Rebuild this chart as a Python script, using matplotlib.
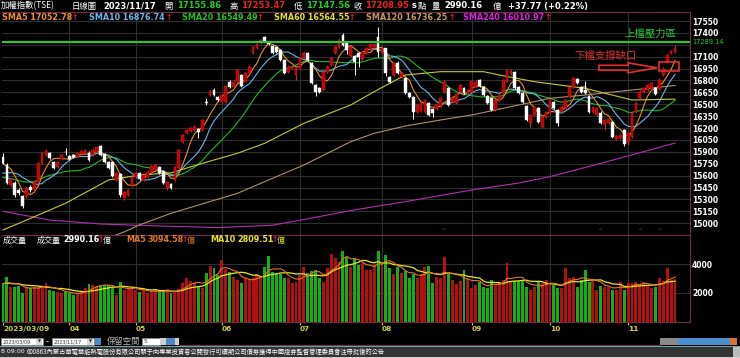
import numpy as np
import pandas as pd
import matplotlib
matplotlib.use('Agg')
import matplotlib.pyplot as plt
from matplotlib.patches import Rectangle, Polygon
from matplotlib.lines import Line2D

# ---------------- data ----------------
opens = [15841, 15736, 15484, 15513, 15421, 15337, 15337, 15463, 15421, 15526,
         15757, 15862, 15883, 15778, 15715, 15807, 15900, 15850, 15862, 15841,
         15870, 15883, 15891, 15862, 15896, 15975, 15870, 15778, 15778, 15547,
         15622, 15316, 15358, 15471, 15589, 15631, 15547, 15589, 15652, 15673,
         15706, 15664, 15442, 15496, 15547, 15694, 16030, 16135, 16169, 16177,
         16185, 16177, 16534, 16618, 16681, 16597, 16534, 16534, 16786, 16723,
         16786, 16870, 16786, 16891, 17143, 17206, 17269, 17353, 17290, 17235,
         17227, 17185, 17059, 16912, 16954, 16870, 16954, 17080, 17143, 17025,
         16744, 16700, 16681, 16912, 16996, 17143, 17227, 17374, 17277, 17109,
         17109, 17143, 17067, 17143, 17193, 17219, 17353, 17143, 17206, 16849,
         16870, 17025, 16849, 16828, 16639, 16588, 16408, 16420, 16408, 16513,
         16437, 16437, 16479, 16660, 16702, 16534, 16521, 16660, 16702, 16639,
         16660, 16723, 16807, 16723, 16605, 16576, 16429, 16555, 16639, 16786,
         16890, 16912, 16723, 16639, 16479, 16261, 16366, 16458, 16219, 16345,
         16387, 16534, 16429, 16408, 16450, 16597, 16723, 16815, 16723, 16681,
         16605, 16408, 16366, 16395, 16250, 16260, 16282, 16060, 16080, 16177,
         16030, 16093, 16408, 16576, 16660, 16681, 16702, 16700, 16690, 16870,
         17038, 17143, 17155.86]
highs = [15880, 15760, 15570, 15530, 15440, 15350, 15455, 15480, 15530, 15770,
         15895, 15930, 15895, 15790, 15790, 15875, 15945, 15865, 15875, 15895,
         15925, 15940, 15905, 15935, 15980, 15985, 15880, 15790, 15790, 15645,
         15635, 15410, 15435, 15600, 15645, 15645, 15625, 15665, 15740, 15750,
         15720, 15675, 15530, 15510, 15725, 15940, 16130, 16190, 16210, 16235,
         16200, 16315, 16580, 16685, 16700, 16610, 16630, 16745, 16800, 16800,
         16945, 16885, 16905, 16990, 17240, 17275, 17325, 17365, 17300, 17245,
         17240, 17195, 17070, 16990, 16990, 16965, 17095, 17165, 17155, 17035,
         16755, 16715, 16925, 16990, 17095, 17240, 17325, 17400, 17290, 17240,
         17125, 17155, 17175, 17220, 17275, 17275, 17470, 17220, 17215, 16860,
         17030, 17040, 16905, 16840, 16650, 16600, 16505, 16525, 16570, 16525,
         16450, 16505, 16590, 16800, 16715, 16590, 16645, 16760, 16715, 16695,
         16810, 16800, 16820, 16735, 16620, 16590, 16570, 16630, 16820, 16945,
         16940, 16925, 16735, 16650, 16490, 16380, 16475, 16470, 16360, 16415,
         16570, 16545, 16440, 16485, 16570, 16735, 16840, 16830, 16735, 16790,
         16620, 16475, 16465, 16410, 16315, 16330, 16295, 16115, 16125, 16190,
         16150, 16410, 16525, 16675, 16715, 16755, 16780, 16715, 16825, 16965,
         17135, 17190, 17253.47]
lows = [15750, 15490, 15460, 15330, 15360, 15190, 15320, 15400, 15410, 15520,
        15745, 15850, 15815, 15680, 15700, 15795, 15860, 15795, 15820, 15830,
        15860, 15875, 15790, 15850, 15885, 15850, 15765, 15680, 15585, 15535,
        15330, 15290, 15340, 15460, 15575, 15540, 15535, 15575, 15640, 15660,
        15620, 15500, 15425, 15430, 15535, 15680, 16015, 16120, 16155, 16165,
        16080, 16165, 16490, 16605, 16605, 16540, 16520, 16520, 16710, 16710,
        16775, 16720, 16775, 16880, 17130, 17195, 17255, 17280, 17245, 17130,
        17150, 17045, 16880, 16900, 16940, 16810, 16940, 17070, 17045, 16750,
        16600, 16640, 16670, 16900, 16985, 17130, 17215, 17235, 17140, 17095,
        16870, 16975, 17055, 17130, 17180, 17205, 17100, 17130, 16860, 16765,
        16855, 16880, 16835, 16625, 16575, 16310, 16395, 16405, 16395, 16350,
        16345, 16425, 16465, 16645, 16480, 16520, 16505, 16645, 16625, 16625,
        16645, 16710, 16720, 16605, 16505, 16415, 16415, 16540, 16625, 16775,
        16875, 16690, 16625, 16520, 16290, 16210, 16350, 16270, 16205, 16330,
        16375, 16435, 16220, 16395, 16435, 16585, 16710, 16760, 16645, 16625,
        16395, 16395, 16350, 16245, 16180, 16245, 16080, 16045, 16065, 15975,
        15990, 16080, 16395, 16560, 16645, 16670, 16690, 16620, 16680, 16855,
        17025, 17130, 17147.56]
closes = [15765, 15505, 15555, 15350, 15379, 15211, 15442, 15413, 15518, 15757,
          15883, 15912, 15828, 15694, 15778, 15862, 15895, 15807, 15832, 15883,
          15912, 15925, 15799, 15925, 15967, 15862, 15778, 15694, 15597, 15631,
          15358, 15400, 15421, 15589, 15631, 15555, 15610, 15652, 15727, 15736,
          15631, 15513, 15517, 15442, 15715, 15925, 16114, 16177, 16198, 16219,
          16156, 16303, 16513, 16668, 16618, 16555, 16618, 16731, 16723, 16786,
          16933, 16731, 16891, 16975, 17227, 17260, 17311, 17290, 17260, 17143,
          17164, 17059, 16891, 16975, 16975, 16954, 17080, 17151, 17059, 16765,
          16660, 16660, 16912, 16975, 17080, 17227, 17311, 17248, 17185, 17227,
          17038, 17101, 17164, 17206, 17260, 17260, 17164, 17206, 16891, 16786,
          17017, 16891, 16891, 16639, 16589, 16408, 16492, 16513, 16555, 16366,
          16395, 16492, 16576, 16786, 16492, 16576, 16630, 16744, 16639, 16681,
          16794, 16786, 16731, 16618, 16521, 16429, 16555, 16618, 16807, 16933,
          16925, 16702, 16639, 16534, 16303, 16366, 16463, 16282, 16345, 16400,
          16555, 16450, 16261, 16471, 16555, 16723, 16828, 16773, 16660, 16639,
          16408, 16463, 16450, 16261, 16300, 16314, 16093, 16100, 16110, 16001,
          16135, 16395, 16513, 16660, 16702, 16744, 16765, 16632, 16810, 16950,
          17120, 17175, 17208.95]
volumes = [2598, 3126, 2437, 2437, 2506, 1977, 2437, 2368, 2437, 2437,
           2322, 2667, 2207, 2161, 2092, 1977, 2092, 1977, 1862, 1977,
           2092, 2322, 2598, 2552, 2506, 2552, 2552, 2552, 2437, 1862,
           2736, 2207, 2322, 2322, 2207, 2092, 2207, 1977, 2092, 2207,
           2092, 2092, 2276, 1977, 2150, 2276, 2667, 3012, 2828, 2667,
           2506, 2368, 3357, 3885, 3747, 3242, 4276, 3633, 3472, 3127,
           2897, 2667, 3012, 2966, 3012, 3288, 3127, 3816, 4552, 3472,
           3288, 3288, 3058, 3058, 2667, 2782, 3242, 3816, 3357, 3518,
           3587, 3012, 2782, 3702, 4667, 4391, 4161, 4897, 4506, 3816,
           4391, 3931, 4046, 3587, 3587, 3931, 4897, 3931, 4621, 3747,
           3288, 3816, 3357, 3518, 3012, 3288, 3012, 3288, 3816, 3862,
           2667, 3127, 3012, 4506, 3288, 2897, 2598, 2828, 3587, 2943,
           2368, 2552, 2736, 2437, 2368, 2897, 2552, 2667, 2897, 4046,
           2828, 2828, 2828, 2828, 2437, 2207, 2437, 2736, 2667, 2897,
           2552, 2552, 2368, 2322, 3747, 3012, 3127, 2437, 2897, 3587,
           2736, 2828, 2207, 2506, 2437, 2437, 2207, 2207, 2736, 2207,
           2667, 2667, 2736, 2552, 2736, 2552, 2368, 2414, 3058, 2828,
           3700, 2897, 2990.16]
prev_closes = [15650, 15700, 15620, 15580, 15560, 15500, 15420, 15400, 15380, 15430,
               15480, 15510, 15440, 15520, 15600, 15680, 15720, 15780, 15820]
prev_volumes = [2700, 2800, 2600, 2500, 2650, 2750, 2600, 2550, 2700]

# long moving averages (index, value)
sma60_idx = [0, 6, 16, 27, 35, 43, 51, 60, 67, 77, 89, 95, 103, 112, 123, 127, 136, 149, 161, 172]
sma60_val = [14915, 15040, 15251, 15545, 15608, 15635, 15755, 15882, 16008, 16260, 16491, 16659,
             16869, 16911, 16911, 16869, 16785, 16701, 16554, 16564.55]
sma120_idx = [0, 19, 31, 35, 43, 60, 77, 89, 95, 103, 112, 120, 132, 140, 149, 161, 172]
sma120_val = [14290, 14670, 14890, 14980, 15125, 15377, 15734, 16028, 16134, 16226, 16302,
              16365, 16491, 16575, 16617, 16680, 16736.25]
sma240_idx = [0, 12, 25, 40, 55, 69, 79, 89, 103, 120, 132, 140, 153, 172]
sma240_val = [15150, 15040, 14990, 14965, 14945, 14975, 15065, 15160, 15272, 15419, 15507,
              15587, 15755, 16010.97]

month_labels = ['2023/03/09', '04', '05', '06', '07', '08', '09', '10', '11']
month_idx = [0, 17, 34, 56, 76, 97, 120, 140, 160]
price_ticks = list(range(15000, 17551, 150))
vol_ticks = [2000, 4000]
resistance = 17289.14

# ---------------- figure ----------------
W, H = 740, 358
fig = plt.figure(figsize=(W / 100, H / 100), dpi=100, facecolor='black')
CJK = ['Noto Sans CJK TC', 'DejaVu Sans']
LAT = ['DejaVu Sans', 'Noto Sans CJK TC']


def fr(x0, y0, x1, y1):
    return [x0 / W, 1 - y1 / H, (x1 - x0) / W, (y1 - y0) / H]


def T(x, y, s, c='white', size=6, bold=True, fam=None, ha='left'):
    fig.text(x / W, 1 - y / H, s, color=c, fontsize=size,
             fontweight='bold' if bold else 'normal',
             family=fam or LAT, ha=ha, va='center')


BORDER = '#6e2c46'
GRID = '#2e2e2e'
n = len(closes)
xs = np.arange(n)
o = np.array(opens, float); h = np.array(highs, float)
l = np.array(lows, float); c = np.array(closes, float)
up = c >= o

# price axes
ax = fig.add_axes(fr(2, 12, 690, 235))
ax.set_facecolor('black')
ax.set_xlim(-0.26, 175.84)
ax.set_ylim(14851.5, 17663.5)
for p in price_ticks:
    ax.axhline(p, color=GRID, lw=0.8, zorder=0)
for m in month_idx[1:]:
    ax.axvline(m, color=GRID, lw=0.8, zorder=0)

allc = pd.Series(prev_closes + closes)
for win, col in [(20, '#22b822'), (10, '#6ab4e8'), (5, '#e8902a')]:
    ma = allc.rolling(win).mean().values[len(prev_closes):]
    ax.plot(xs, ma, color=col, lw=0.8, zorder=2)
ax.plot(sma240_idx, sma240_val, color='#b030b0', lw=0.8, zorder=2)
ax.plot(sma120_idx, sma120_val, color='#b09060', lw=0.8, zorder=2)
ax.plot(sma60_idx, sma60_val, color='#c8c832', lw=0.8, zorder=2)

wick_col = np.where(up, '#e02020', 'white')
ax.vlines(xs, l, h, colors=wick_col, lw=0.7, zorder=3)
body_b = np.minimum(o, c)
body_h = np.maximum(np.abs(c - o), 8)
ax.bar(xs, body_h, bottom=body_b, width=0.72,
       color=np.where(up, '#c00000', 'white'),
       edgecolor=np.where(up, '#e82020', 'white'), lw=0.3, zorder=4)
ax.axhline(resistance, color='#20d020', lw=1.5, zorder=5)

ax.yaxis.tick_right()
ax.set_yticks([p for p in price_ticks if p != 17250])
ax.set_yticklabels([str(p) for p in price_ticks if p != 17250])
ax.tick_params(axis='y', length=0, pad=1.5, labelsize=5.5, labelcolor='white')
for t in ax.get_yticklabels():
    t.set_fontweight('bold')
ax.set_xticks([])
for s in ax.spines.values():
    s.set_color(BORDER); s.set_linewidth(0.8)
ax.spines['left'].set_visible(False)

# volume axes
av = fig.add_axes(fr(2, 235, 690, 322))
av.set_facecolor('black')
av.set_xlim(-0.26, 175.84)
av.set_ylim(0, 6000)
for v in vol_ticks:
    av.axhline(v, color=GRID, lw=0.8, zorder=0)
for m in month_idx[1:]:
    av.axvline(m, color=GRID, lw=0.8, zorder=0)
vol = np.array(volumes, float)
av.bar(xs, vol, width=0.75, color=np.where(up, '#b01010', '#12b012'), zorder=2)
allv = pd.Series(prev_volumes + volumes)
av.plot(xs, allv.rolling(10).mean().values[len(prev_volumes):], color='#e8e820', lw=0.9, zorder=3)
av.plot(xs, allv.rolling(5).mean().values[len(prev_volumes):], color='#e07828', lw=0.8, zorder=3)
av.yaxis.tick_right()
av.set_yticks(vol_ticks)
av.set_yticklabels([str(v) for v in vol_ticks])
av.tick_params(axis='y', length=0, pad=1.5, labelsize=5.5, labelcolor='white')
for t in av.get_yticklabels():
    t.set_fontweight('bold')
av.set_xticks(month_idx)
av.set_xticklabels(month_labels)
av.tick_params(axis='x', length=2, color='#c8c840', pad=1.0, labelsize=5.3, labelcolor='#d0d040')
for t in av.get_xticklabels():
    t.set_fontweight('bold'); t.set_ha('left')
for s in av.spines.values():
    s.set_color(BORDER); s.set_linewidth(0.8)
av.spines['left'].set_visible(False)

# ---------------- header texts ----------------
T(1, 6, '加權指數(TSE)', size=6, bold=False, fam=CJK)
T(72, 6, '日線圖', size=6, bold=False, fam=CJK)
T(103, 6, '2023/11/17', size=6.0)
T(164, 6, '開', size=6, bold=False, fam=CJK)
T(177, 6, '17155.86', c='#20d020', size=6.0)
T(229, 6, '高', size=6, bold=False, fam=CJK)
T(241, 6, '17253.47', c='#f02020', size=6.0)
T(294, 6, '低', size=6, bold=False, fam=CJK)
T(306, 6, '17147.56', c='#20d020', size=6.0)
T(354, 6, '收', size=6, bold=False, fam=CJK)
T(365, 6, '17208.95', c='#f02020', size=6.0)
T(412, 6, 's', size=6.0)
T(418, 6, '點', size=6, bold=False, fam=CJK)
T(432, 6, '量', size=6, bold=False, fam=CJK)
T(444, 6, '2990.16', size=6.0)
T(493, 6, '億', size=6, bold=False, fam=CJK)
T(508, 6, '+37.77 (+0.22%)', size=6.0)

ma_items = [(2, 'SMA5 17052.78', '#e8902a'), (89, 'SMA10 16876.74', '#6ab4e8'),
            (182, 'SMA20 16549.49', '#22c022'), (274, 'SMA60 16564.55', '#e0e030'),
            (366, 'SMA120 16736.25', '#c09a60'), (463, 'SMA240 16010.97', '#e020e0')]
for x0, s, col in ma_items:
    T(x0, 17, s, c=col, size=5.8)
arrow_x = [72, 166, 257, 349, 449, 545]
for ax0 in arrow_x:
    T(ax0, 17, '↑', c='#f02020', size=5.5)

# volume title
T(3, 240, '成交量', size=5.8, bold=False, fam=CJK)
T(37, 240, '成交量', size=5.8, bold=False, fam=CJK)
T(63, 240, '2990.16', size=5.8)
T(98, 240, '↑', c='#f02020', size=5.5)
T(103, 240, '億', size=5.8, bold=False, fam=CJK)
T(126, 240, 'MA5', c='#e07828', size=5.8)
T(147, 240, '3094.58', c='#e07828', size=5.8)
T(182, 240, '↑', c='#f02020', size=5.5)
T(187, 240, '億', c='#e07828', size=5.8, bold=False, fam=CJK)
T(210, 240, 'MA10', c='#e8e820', size=5.8)
T(237, 240, '2809.51', c='#e8e820', size=5.8)
T(272, 240, '↑', c='#f02020', size=5.5)
T(277, 240, '億', c='#e8e820', size=5.8, bold=False, fam=CJK)

# resistance label and annotations
T(692, 41.5, '17289.14', c='#20d020', size=4.8, bold=False)
T(650, 34, '上檔壓力區', c='#30c040', size=7.5, bold=False, fam=CJK, ha='center')
T(606, 56, '下檔支撐缺口', c='#e03030', size=7.5, bold=False, fam=CJK, ha='center')
arrow_pts = [(599, 65.3), (628, 65.3), (628, 62.8), (657, 67.8), (628, 72.8), (628, 70.3), (599, 70.3)]
fig.patches.append(Polygon([(x / W, 1 - y / H) for x, y in arrow_pts], closed=True, fill=False,
                           edgecolor='#e03030', lw=1.2, transform=fig.transFigure, figure=fig))
fig.patches.append(Rectangle((659 / W, 1 - 70.5 / H), 20 / W, 9 / H, fill=False,
                             edgecolor='#e03030', lw=1.2, transform=fig.transFigure, figure=fig))
for mx in [443, 600, 640, 660]:
    T(mx, 231, '^', c='#4a6a5a', size=4.5, bold=False, ha='center')

# ---------------- toolbar & status bar ----------------
def box(x0, y0, x1, y1, fc, ec='none', lw=0.5):
    fig.patches.append(Rectangle((x0 / W, 1 - y1 / H), (x1 - x0) / W, (y1 - y0) / H,
                                 facecolor=fc, edgecolor=ec, lw=lw,
                                 transform=fig.transFigure, figure=fig))

box(1, 338, 43, 345, 'white', '#888888')
T(3, 341.5, '2023/03/09', c='#333333', size=3.5, bold=False)
box(36, 338.5, 42, 344.5, '#d8d8d8')
T(39, 341.5, '▼', c='#222222', size=2.8, bold=False, ha='center')
T(46, 341.5, '-', c='white', size=6, bold=False)
box(52, 338, 94, 345, 'white', '#888888')
T(54, 341.5, '2023/11/17', c='#333333', size=3.5, bold=False)
box(87, 338.5, 93, 344.5, '#d8d8d8')
T(90, 341.5, '▼', c='#222222', size=2.8, bold=False, ha='center')
box(95, 338, 101, 345, '#4f88c8')
T(107, 341.5, '保留空間', c='#b8b8b8', size=6.0, bold=False, fam=CJK)
box(142, 338, 160, 345, 'white', '#888888')
T(144, 341.5, '5', c='#333333', size=4, bold=False)
box(160, 338, 166, 345, '#d0d0d0')
box(166, 338, 175, 345, '#4f88c8')
box(175, 338, 179, 345, '#d0d0d0')
fig.add_artist(Line2D([180 / W, 660 / W], [1 - 344.5 / H, 1 - 344.5 / H], color=BORDER, lw=0.8))
box(660, 338, 678, 345, '#8a8a8a')
for bx in range(678, 730, 7):
    box(bx, 338, bx + 6.5, 345, '#4a90d0')
box(730, 338, 737, 345, '#e07030')
box(0, 346, 740, 346.8, '#70a8a8')
box(0, 346.8, 740, 356.5, '#333333')
box(0, 356.5, 740, 358, '#d0d0d0')
box(733, 347, 740, 356.5, '#bbbbbb')
T(1, 351.7, '8 09:00', c='white', size=4.5, bold=False)
T(27, 351.7, '600863內蒙古華電華能熱電股份有限公司關于向專業投資者公開發行可續期公司債券獲得中國證券監督管理委員會注冊批復的公告',
  c='white', size=4.5, bold=False, fam=CJK)

fig.savefig('out.png', dpi=100, facecolor='black')
